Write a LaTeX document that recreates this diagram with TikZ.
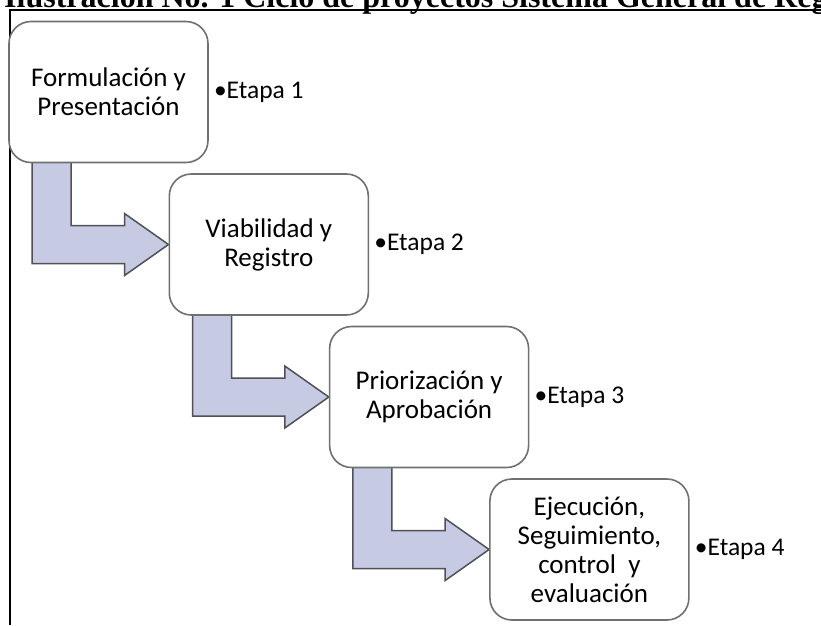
\documentclass[tikz,border=0pt]{standalone}
\usepackage{fontspec}
\setmainfont{Carlito}
\newfontfamily\titlefont{Liberation Serif}
\usetikzlibrary{calc}
\pgfdeclarelayer{background}
\pgfsetlayers{background,main}

\definecolor{boxline}{RGB}{112,112,112}
\definecolor{arrowfill}{RGB}{198,202,226}
\definecolor{arrowline}{RGB}{80,80,86}

\tikzset{
	etapa/.style={draw=boxline, line width=1.6pt, fill=white, rounded corners=22pt,
		minimum width=199pt, minimum height=141pt, inner sep=0pt, align=center,
		font=\fontsize{27}{29}\selectfont},
	etiqueta/.style={anchor=west, inner sep=0pt, font=\fontsize{25.5}{29}\selectfont},
	flecha/.style={fill=arrowfill, draw=arrowline, line width=1.5pt, line join=miter},
}

\begin{document}
\begin{tikzpicture}[x=1pt, y=-1pt]
	\useasboundingbox (0,0) rectangle (821,625);
	% title, cut by the page edge
	\node[anchor=base west, inner sep=0pt, font=\titlefont\bfseries\fontsize{32}{36}\selectfont]
		(titulo) at (4,7) {Ilustración No. 1 Ciclo de proyectos Sistema General de Regalías};
	% frame
	\draw[line width=2pt] (10,625) -- (10,10) -- (821,10);
	% stages
	\foreach \t [count=\i] in {{Formulación y\\Presentación}, {Viabilidad y\\Registro},
		{Priorización y\\Aprobación}, {Ejecución,\\Seguimiento,\\control\ \ y\\evaluación}} {
		\node[etapa] (f\i) at ({108.5+160.3*(\i-1)},{92+152.5*(\i-1)}) {\t};
		\node[etiqueta] (e\i) at ($(f\i.east)+(5,0)$) {•Etapa \i};
	}
	% bent arrows between stages
	\begin{pgfonlayer}{background}
		\foreach \i/\j in {1/2,2/3,3/4} {
			\draw[flecha] let \p1=(f\i.south west), \p2=(f\j.west) in
				(\x1+24pt,\y1+4pt) -- (\x1+63pt,\y1+4pt) -- (\x1+63pt,\y2+19pt)
				-- (\x2-44pt,\y2+19pt) -- (\x2-44pt,\y2+31pt) -- (\x2,\y2)
				-- (\x2-44pt,\y2-31pt) -- (\x2-44pt,\y2-19pt) -- (\x1+24pt,\y2-19pt) -- cycle;
		}
	\end{pgfonlayer}
\end{tikzpicture}
\end{document}
